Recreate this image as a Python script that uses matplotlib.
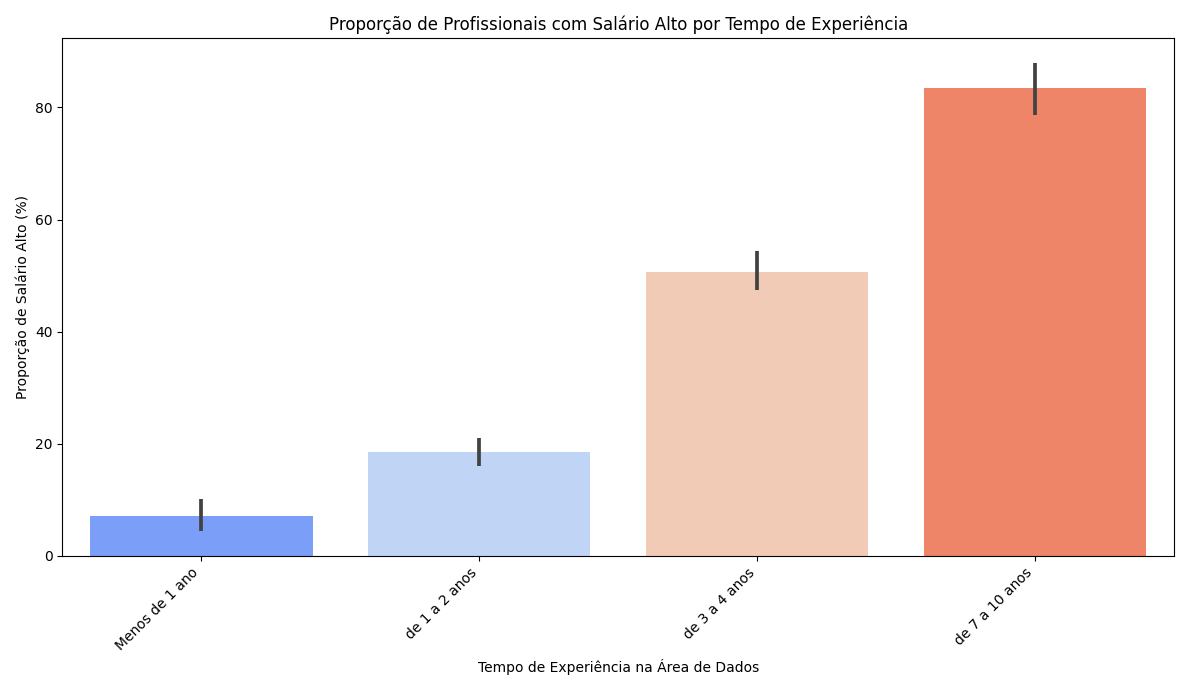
import matplotlib
matplotlib.use("Agg")
import matplotlib.pyplot as plt
import numpy as np
import seaborn as sns

categories = ["Menos de 1 ano", "de 1 a 2 anos", "de 3 a 4 anos", "de 7 a 10 anos"]
proporcao = [7.2, 18.6, 50.7, 83.5]
ci_low = [4.5, 16.1, 47.5, 78.7]
ci_high = [10.2, 21.0, 54.3, 88.0]

colors = sns.color_palette("coolwarm", len(categories))

fig, ax = plt.subplots(figsize=(11.89, 6.9), dpi=100)
x = np.arange(len(categories))
ax.bar(x, proporcao, width=0.8, color=colors)
ax.vlines(x, ci_low, ci_high, color="#424242", linewidth=2.7)

ax.set_xlim(-0.5, len(categories) - 0.5)
ax.set_xticks(x)
ax.set_xticklabels(categories, rotation=45, ha="right")
ax.set_xlabel("Tempo de Experiência na Área de Dados")
ax.set_ylabel("Proporção de Salário Alto (%)")
ax.set_title("Proporção de Profissionais com Salário Alto por Tempo de Experiência")

plt.tight_layout()
plt.savefig("out.png", dpi=100)
